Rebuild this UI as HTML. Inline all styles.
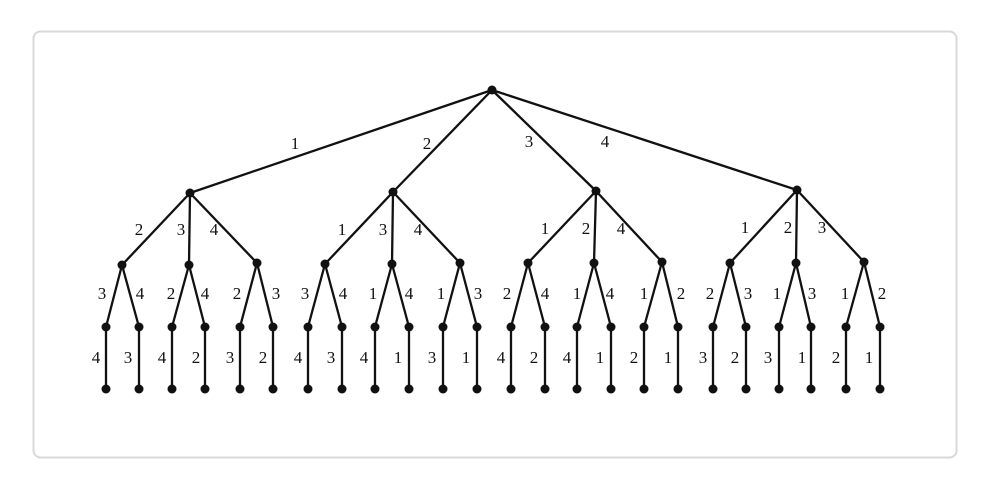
<!DOCTYPE html>
<html><head><meta charset="utf-8"><style>
html,body{margin:0;padding:0;background:#fff;}
svg{display:block;}
text{font-family:"Liberation Serif",serif;font-size:17px;fill:#111;}
</style></head><body>
<svg width="990" height="490" viewBox="0 0 990 490" xmlns="http://www.w3.org/2000/svg">
<rect x="33.5" y="31.5" width="923" height="426" rx="7" fill="#fff" stroke="#d8d8d8" stroke-width="2"/>
<g stroke="#111" stroke-width="2.3" fill="none">
<path d="M492 90L190 193M492 90L393 192M492 90L596 191M492 90L797 190"/>
<path d="M190 193L122 265M190 193L189 265M190 193L257 263"/>
<path d="M393 192L325 264M393 192L392 264M393 192L460 263"/>
<path d="M596 191L528 263M596 191L594 263M596 191L662 262"/>
<path d="M797 190L730 263M797 190L796 263M797 190L864 262"/>
<path d="M122 265L106 327M122 265L139 327M189 265L172 327M189 265L205 327M257 263L240 327M257 263L273 327"/>
<path d="M325 264L308 327M325 264L342 327M392 264L375 327M392 264L409 327M460 263L443 327M460 263L477 327"/>
<path d="M528 263L511 327M528 263L545 327M594 263L577 327M594 263L611 327M662 262L644 327M662 262L678 327"/>
<path d="M730 263L713 327M730 263L746 327M796 263L779 327M796 263L811 327M864 262L846 327M864 262L880 327"/>
<path d="M106 327V389M139 327V389M172 327V389M205 327V389M240 327V389M273 327V389M308 327V389M342 327V389M375 327V389M409 327V389M443 327V389M477 327V389M511 327V389M545 327V389M577 327V389M611 327V389M644 327V389M678 327V389M713 327V389M746 327V389M779 327V389M811 327V389M846 327V389M880 327V389"/>
</g>
<g fill="#111">
<circle cx="492" cy="90" r="4.5"/>
<circle cx="190" cy="193" r="4.5"/><circle cx="393" cy="192" r="4.5"/><circle cx="596" cy="191" r="4.5"/><circle cx="797" cy="190" r="4.5"/>
<circle cx="122" cy="265" r="4.5"/><circle cx="189" cy="265" r="4.5"/><circle cx="257" cy="263" r="4.5"/>
<circle cx="325" cy="264" r="4.5"/><circle cx="392" cy="264" r="4.5"/><circle cx="460" cy="263" r="4.5"/>
<circle cx="528" cy="263" r="4.5"/><circle cx="594" cy="263" r="4.5"/><circle cx="662" cy="262" r="4.5"/>
<circle cx="730" cy="263" r="4.5"/><circle cx="796" cy="263" r="4.5"/><circle cx="864" cy="262" r="4.5"/>
<circle cx="106" cy="327" r="4.5"/><circle cx="139" cy="327" r="4.5"/><circle cx="172" cy="327" r="4.5"/><circle cx="205" cy="327" r="4.5"/><circle cx="240" cy="327" r="4.5"/><circle cx="273" cy="327" r="4.5"/><circle cx="308" cy="327" r="4.5"/><circle cx="342" cy="327" r="4.5"/><circle cx="375" cy="327" r="4.5"/><circle cx="409" cy="327" r="4.5"/><circle cx="443" cy="327" r="4.5"/><circle cx="477" cy="327" r="4.5"/><circle cx="511" cy="327" r="4.5"/><circle cx="545" cy="327" r="4.5"/><circle cx="577" cy="327" r="4.5"/><circle cx="611" cy="327" r="4.5"/><circle cx="644" cy="327" r="4.5"/><circle cx="678" cy="327" r="4.5"/><circle cx="713" cy="327" r="4.5"/><circle cx="746" cy="327" r="4.5"/><circle cx="779" cy="327" r="4.5"/><circle cx="811" cy="327" r="4.5"/><circle cx="846" cy="327" r="4.5"/><circle cx="880" cy="327" r="4.5"/>
<circle cx="106" cy="389" r="4.5"/><circle cx="139" cy="389" r="4.5"/><circle cx="172" cy="389" r="4.5"/><circle cx="205" cy="389" r="4.5"/><circle cx="240" cy="389" r="4.5"/><circle cx="273" cy="389" r="4.5"/><circle cx="308" cy="389" r="4.5"/><circle cx="342" cy="389" r="4.5"/><circle cx="375" cy="389" r="4.5"/><circle cx="409" cy="389" r="4.5"/><circle cx="443" cy="389" r="4.5"/><circle cx="477" cy="389" r="4.5"/><circle cx="511" cy="389" r="4.5"/><circle cx="545" cy="389" r="4.5"/><circle cx="577" cy="389" r="4.5"/><circle cx="611" cy="389" r="4.5"/><circle cx="644" cy="389" r="4.5"/><circle cx="678" cy="389" r="4.5"/><circle cx="713" cy="389" r="4.5"/><circle cx="746" cy="389" r="4.5"/><circle cx="779" cy="389" r="4.5"/><circle cx="811" cy="389" r="4.5"/><circle cx="846" cy="389" r="4.5"/><circle cx="880" cy="389" r="4.5"/>
</g>
<g text-anchor="middle">
<text x="295" y="149">1</text><text x="427" y="149">2</text><text x="529" y="147">3</text><text x="605" y="147">4</text>
<text x="139" y="235">2</text><text x="181" y="235">3</text><text x="214" y="235">4</text>
<text x="342" y="235">1</text><text x="383" y="235">3</text><text x="418" y="235">4</text>
<text x="545" y="234">1</text><text x="586" y="234">2</text><text x="621" y="234">4</text>
<text x="745" y="233">1</text><text x="788" y="233">2</text><text x="822" y="233">3</text>
<text x="102" y="299">3</text><text x="140" y="299">4</text>
<text x="171" y="299">2</text><text x="205" y="299">4</text>
<text x="237" y="299">2</text><text x="276" y="299">3</text>
<text x="305" y="299">3</text><text x="343" y="299">4</text>
<text x="373" y="299">1</text><text x="409" y="299">4</text>
<text x="441" y="299">1</text><text x="478" y="299">3</text>
<text x="507" y="299">2</text><text x="545" y="299">4</text>
<text x="577" y="299">1</text><text x="610" y="299">4</text>
<text x="644" y="299">1</text><text x="681" y="299">2</text>
<text x="710" y="299">2</text><text x="748" y="299">3</text>
<text x="777" y="299">1</text><text x="812" y="299">3</text>
<text x="845" y="299">1</text><text x="882" y="299">2</text>
<text x="96" y="363">4</text><text x="128" y="363">3</text>
<text x="162" y="363">4</text><text x="196" y="363">2</text>
<text x="230" y="363">3</text><text x="263" y="363">2</text>
<text x="298" y="363">4</text><text x="331" y="363">3</text>
<text x="364" y="363">4</text><text x="398" y="363">1</text>
<text x="432" y="363">3</text><text x="466" y="363">1</text>
<text x="501" y="363">4</text><text x="534" y="363">2</text>
<text x="567" y="363">4</text><text x="600" y="363">1</text>
<text x="634" y="363">2</text><text x="668" y="363">1</text>
<text x="703" y="363">3</text><text x="735" y="363">2</text>
<text x="768" y="363">3</text><text x="802" y="363">1</text>
<text x="836" y="363">2</text><text x="869" y="363">1</text>
</g>
</svg>
</body></html>
